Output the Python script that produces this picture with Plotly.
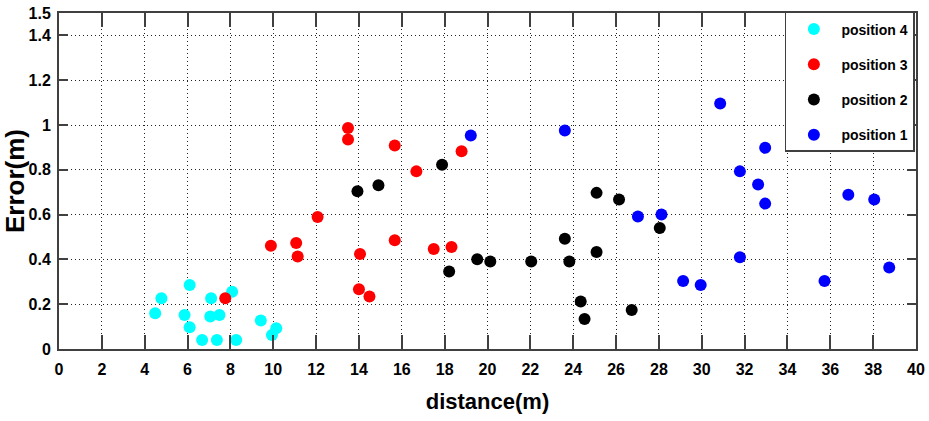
import plotly.graph_objects as go

# position 4 (cyan)
p4_x = [4.49, 4.78, 6.10, 5.86, 6.10, 6.68, 7.10, 7.06, 7.49, 7.37, 8.08, 8.27, 9.42, 9.94, 10.14]
p4_y = [0.160, 0.227, 0.286, 0.152, 0.097, 0.040, 0.227, 0.145, 0.152, 0.040, 0.256, 0.040, 0.127, 0.063, 0.093]

# position 3 (red)
p3_x = [7.76, 9.89, 11.07, 11.14, 12.07, 13.49, 13.49, 15.67, 16.68, 18.79, 15.67, 14.05, 17.49, 18.32, 14.00, 14.49]
p3_y = [0.227, 0.461, 0.473, 0.413, 0.589, 0.987, 0.935, 0.908, 0.793, 0.883, 0.485, 0.424, 0.446, 0.455, 0.267, 0.234]

# position 2 (black)
p2_x = [13.93, 14.91, 17.88, 18.21, 19.52, 20.13, 22.04, 23.61, 23.82, 25.09, 25.09, 24.35, 24.53, 26.14, 28.04, 26.73]
p2_y = [0.704, 0.731, 0.823, 0.346, 0.401, 0.391, 0.391, 0.492, 0.391, 0.697, 0.433, 0.212, 0.134, 0.667, 0.540, 0.174]

# position 1 (blue)
p1_x = [19.22, 23.61, 30.86, 32.96, 31.78, 32.63, 32.96, 27.02, 28.12, 31.78, 36.84, 38.05, 29.13, 29.95, 35.73, 38.75]
p1_y = [0.953, 0.975, 1.096, 0.898, 0.793, 0.734, 0.649, 0.592, 0.600, 0.410, 0.689, 0.667, 0.304, 0.286, 0.304, 0.364]

series_names = ["position 4", "position 3", "position 2", "position 1"]
series_colors = ["#00FFFF", "#FF0000", "#000000", "#0000FF"]
series_x = [p4_x, p3_x, p2_x, p1_x]
series_y = [p4_y, p3_y, p2_y, p1_y]

x_ticks = list(range(0, 41, 2))
y_tickvals = [0, 0.2, 0.4, 0.6, 0.8, 1.0, 1.2, 1.4, 1.5]
y_ticktext = ["0", "0.2", "0.4", "0.6", "0.8", "1", "1.2", "1.4", "1.5"]

FONT = "Liberation Sans, Arial, sans-serif"

fig = go.Figure()
for i, (n, c, xs, ys) in enumerate(zip(series_names, series_colors, series_x, series_y)):
    fig.add_trace(go.Scatter(
        x=xs, y=ys, mode="markers", name=n, legendgroup=f"g{i}",
        marker=dict(color=c, size=12, symbol="circle", line=dict(width=0)),
    ))

axis_common = dict(
    showline=True, linecolor="#404040", linewidth=2, mirror="ticks",
    ticks="inside", tickcolor="#404040", tickwidth=2,
    showgrid=True, gridcolor="#222222", gridwidth=1, griddash="1px,3px",
    zeroline=False, automargin=False, ticklabeloverflow="allow",
    tickfont=dict(family=FONT, size=16, color="black", weight="bold"),
)

fig.update_xaxes(
    range=[0, 40], tickvals=x_ticks, ticklen=14, ticklabelstandoff=5,
    title=dict(text="distance(m)", font=dict(family=FONT, size=22, color="black", weight="bold"), standoff=16),
    **axis_common,
)
fig.update_yaxes(
    range=[0, 1.5], tickvals=y_tickvals, ticktext=y_ticktext, ticklen=9, ticklabelstandoff=3,
    title=dict(text="Error(m)", font=dict(family=FONT, size=26, color="black", weight="bold"), standoff=10),
    **axis_common,
)

fig.update_layout(
    width=929, height=421,
    margin=dict(l=59, r=13, t=13, b=72, autoexpand=False),
    paper_bgcolor="white", plot_bgcolor="white",
    legend=dict(
        x=0.847, y=1.003, xanchor="left", yanchor="top",
        bgcolor="white", bordercolor="#404040", borderwidth=1.5,
        font=dict(family=FONT, size=14, color="black", weight="bold"),
        tracegroupgap=14, itemwidth=45,
    ),
)

# remove the default 8px page margin so the figure fills the window exactly
fig.write_html(
    "out.html",
    config={"displayModeBar": False},
    post_script="document.body.style.margin='0px';",
)
